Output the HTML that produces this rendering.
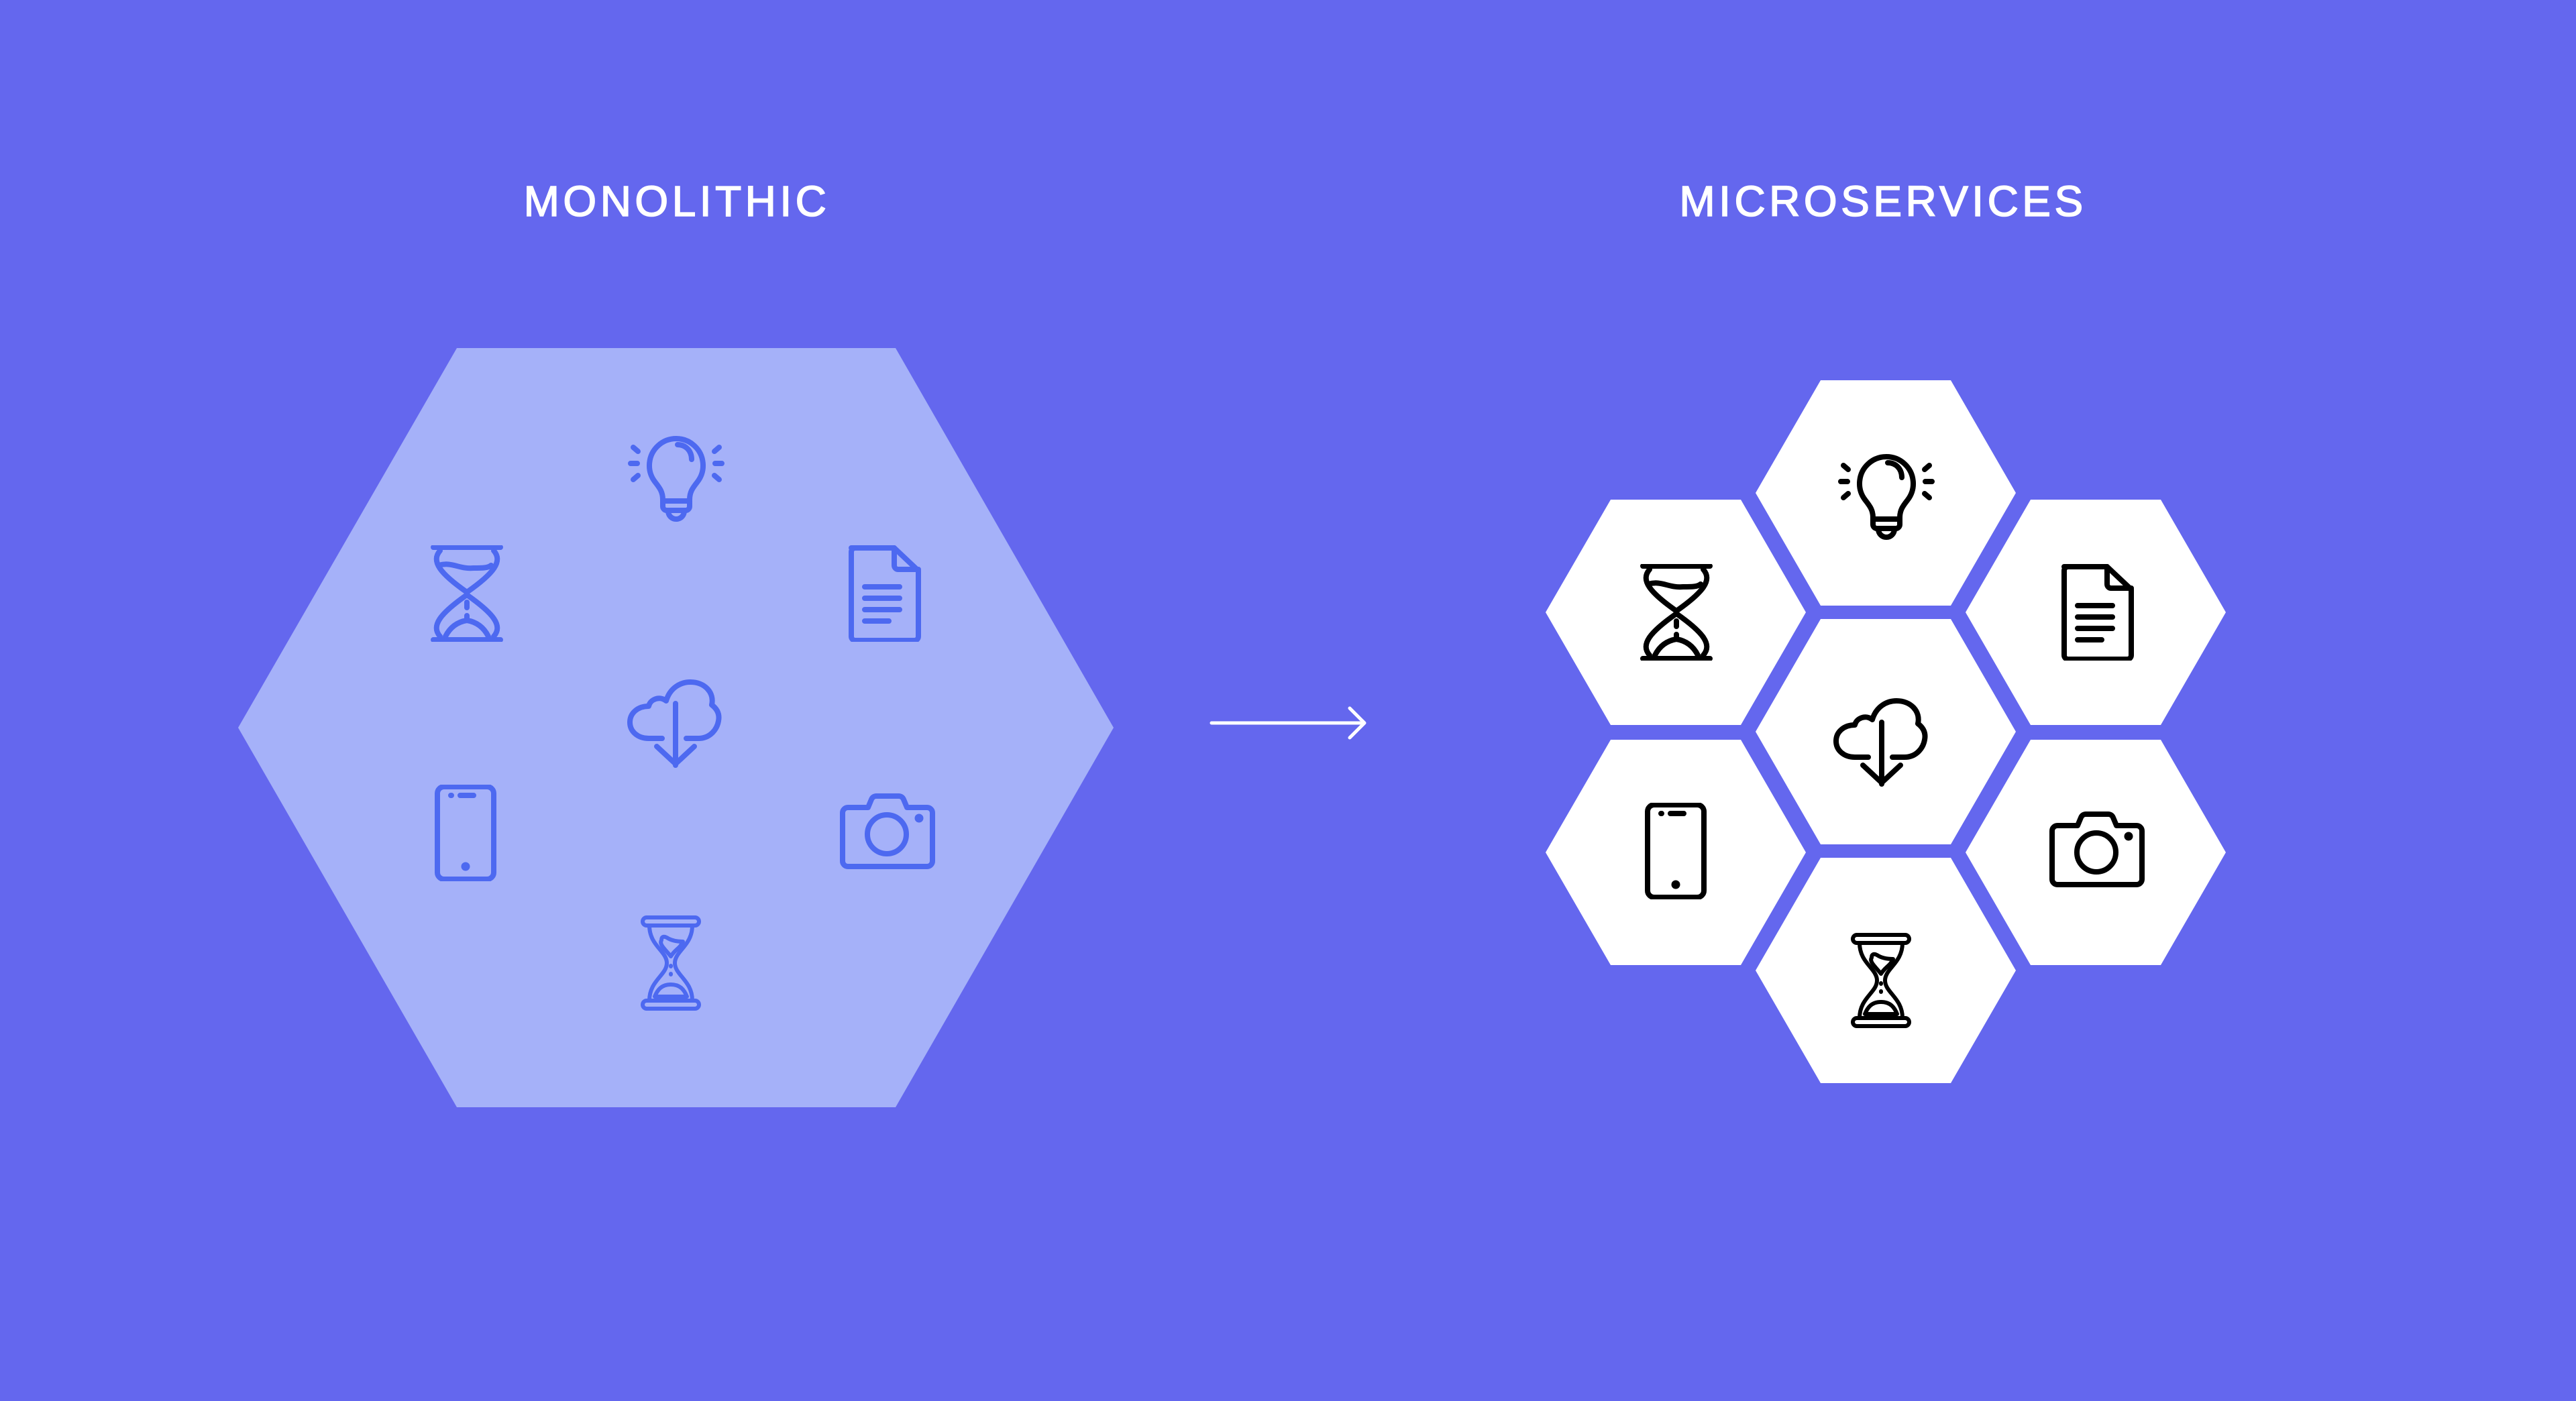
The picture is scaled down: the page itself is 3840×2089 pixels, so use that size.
<!DOCTYPE html>
<html><head><meta charset="utf-8"><style>
html,body{margin:0;padding:0;background:#6467ee;}
svg{display:block}
</style></head><body>
<svg width="3840" height="2089" viewBox="0 0 3840 2089" xmlns="http://www.w3.org/2000/svg">
<defs>
<symbol id="bulb" viewBox="0 0 144 144"><g fill="none" stroke-width="8" stroke-linecap="round" stroke-linejoin="round">
<path d="M52 112 v-10 c0-12 -5-18 -12-27 a40 40 0 1 1 64 0 c-7 9 -12 15 -12 27 v10 a6 6 0 0 1 -6 6 h-28 a6 6 0 0 1 -6 -6 z"/>
<path d="M52 104 h40"/><path d="M60 119 a12 12 0 0 0 24 0"/>
<path d="M74 20 c12 0 21 9 21 22"/>
<path d="M8 24 l7 6 M4 48 h10 M8 72 l7 -6 M136 24 l-7 6 M140 48 h-10 M136 72 l-7 -6"/></g></symbol>
<symbol id="hg1" viewBox="0 0 144 144"><g fill="none" stroke-width="8" stroke-linecap="round" stroke-linejoin="round">
<path d="M22 3 h100 M22 141 h100"/>
<path d="M32 8 c-14 16 0 34 40 62 c40 -28 54 -46 40 -62"/>
<path d="M32 136 c-14 -16 0 -34 40 -62 c40 28 54 46 40 62"/>
<path d="M30 30 c20 -6 30 6 52 4 c12 0 22 0 26 -4"/>
<path d="M72 85 v8 M72 110 v-5 M40 136 c8 -16 20 -22 32 -24 c12 2 24 8 32 24"/></g></symbol>
<symbol id="doc" viewBox="0 0 144 144"><g fill="none" stroke-width="8" stroke-linecap="round" stroke-linejoin="round">
<path d="M32 4 h64 l36 34 v98 a6 6 0 0 1 -6 6 h-88 a6 6 0 0 1 -6 -6 v-126 a6 6 0 0 1 6 -6 z"/>
<path d="M96 4 v26 a6 6 0 0 0 6 6 h30"/>
<path d="M52 62 h52 M52 79 h52 M52 96 h52 M52 113 h36"/></g></symbol>
<symbol id="cloud" viewBox="0 0 144 144"><g fill="none" stroke-width="8" stroke-linecap="round" stroke-linejoin="round">
<path d="M52 100 h-20 c-16 0 -28 -10 -28 -24 c0 -14 12 -24 28 -24 c2 -10 16 -16 26 -8 c6 -20 22 -28 36 -28 c22 0 36 16 32 34 c8 6 12 14 10 24 c-2 12 -12 26 -30 26 h-18"/>
<path d="M72 48 v92 M44 112 l28 26 l28 -26"/></g></symbol>
<symbol id="phone" viewBox="0 0 144 144"><g fill="none" stroke-width="8" stroke-linecap="round" stroke-linejoin="round">
<rect x="30" y="3" width="84" height="138" rx="10"/>
<path d="M64 16 h20 M50 16 h1"/></g><circle cx="72" cy="122" r="6"/></symbol>
<symbol id="camera" viewBox="0 0 144 144"><g fill="none" stroke-width="8" stroke-linecap="round" stroke-linejoin="round">
<path d="M6 42 a8 8 0 0 1 8 -8 h30 l5 -12 a8 8 0 0 1 8 -5 h32 a8 8 0 0 1 8 5 l5 12 h30 a8 8 0 0 1 8 8 v72 a8 8 0 0 1 -8 8 h-118 a8 8 0 0 1 -8 -8 z"/>
<circle cx="72" cy="74" r="29"/></g><circle cx="120" cy="50" r="6"/></symbol>
<symbol id="hg2" viewBox="0 0 144 144"><g fill="none" stroke-width="6" stroke-linecap="round" stroke-linejoin="round">
<rect x="30" y="4" width="84" height="12" rx="6"/><rect x="30" y="128" width="84" height="12" rx="6"/>
<path d="M40 16 c0 30 26 38 26 56 c0 18 -26 26 -26 56 M104 16 c0 30 -26 38 -26 56 c0 18 26 26 26 56"/>
<path d="M58 38 c-4 6 6 14 14 24 c6 -10 14 -12 18 -22 c-10 0 -18 -2 -24 -6 c-4 -2 -8 -2 -8 4 z"/>
<path d="M72 76 v1 M72 88 v1 M48 122 c4 -10 10 -18 24 -18 c14 0 20 8 24 18 z"/></g></symbol>
</defs>

<g font-family="Liberation Sans, sans-serif" font-size="64" letter-spacing="5.5" fill="#ffffff" stroke="#ffffff" stroke-width="1.6" text-anchor="middle">
<text x="1009" y="322">MONOLITHIC</text>
<text x="2807" y="322">MICROSERVICES</text>
</g>

<polygon points="681,519 1335,519 1660,1085 1335,1651 681,1651 355,1085" fill="#a5b1f9"/>
<g fill="#4d69f0" stroke="#4d69f0">
<use href="#bulb" x="936" y="643" width="144" height="144"/>
<use href="#hg1" x="624" y="813" width="144" height="144"/>
<use href="#doc" x="1237" y="813" width="144" height="144"/>
<use href="#cloud" x="935" y="1001" width="144" height="144"/>
<use href="#phone" x="622" y="1170" width="144" height="144"/>
<use href="#camera" x="1250" y="1170" width="144" height="144"/>
<use href="#hg2" x="928" y="1364" width="144" height="144"/>
</g>

<g stroke="#ffffff" stroke-width="5" fill="none" stroke-linecap="round" stroke-linejoin="round">
<path d="M1806 1078 H2033 M2012 1056 L2034 1078 L2012 1100"/>
</g>

<g fill="#ffffff">
<polygon points="2714,567 2908,567 3005,735 2908,903 2714,903 2617,735"/>
<polygon points="2401,745 2595,745 2692,913 2595,1081 2401,1081 2304,913"/>
<polygon points="3027,745 3221,745 3318,913 3221,1081 3027,1081 2930,913"/>
<polygon points="2714,923 2908,923 3005,1091 2908,1259 2714,1259 2617,1091"/>
<polygon points="2401,1103 2595,1103 2692,1271 2595,1439 2401,1439 2304,1271"/>
<polygon points="3027,1103 3221,1103 3318,1271 3221,1439 3027,1439 2930,1271"/>
<polygon points="2714,1279 2908,1279 3005,1447 2908,1615 2714,1615 2617,1447"/>
</g>
<g fill="#000" stroke="#000">
<use href="#bulb" x="2740" y="670" width="144" height="144"/>
<use href="#hg1" x="2427" y="841" width="144" height="144"/>
<use href="#doc" x="3045" y="841" width="144" height="144"/>
<use href="#cloud" x="2733" y="1029" width="144" height="144"/>
<use href="#phone" x="2426" y="1197" width="144" height="144"/>
<use href="#camera" x="3053" y="1197" width="144" height="144"/>
<use href="#hg2" x="2732" y="1390" width="144" height="144"/>
</g>
</svg>
</body></html>
